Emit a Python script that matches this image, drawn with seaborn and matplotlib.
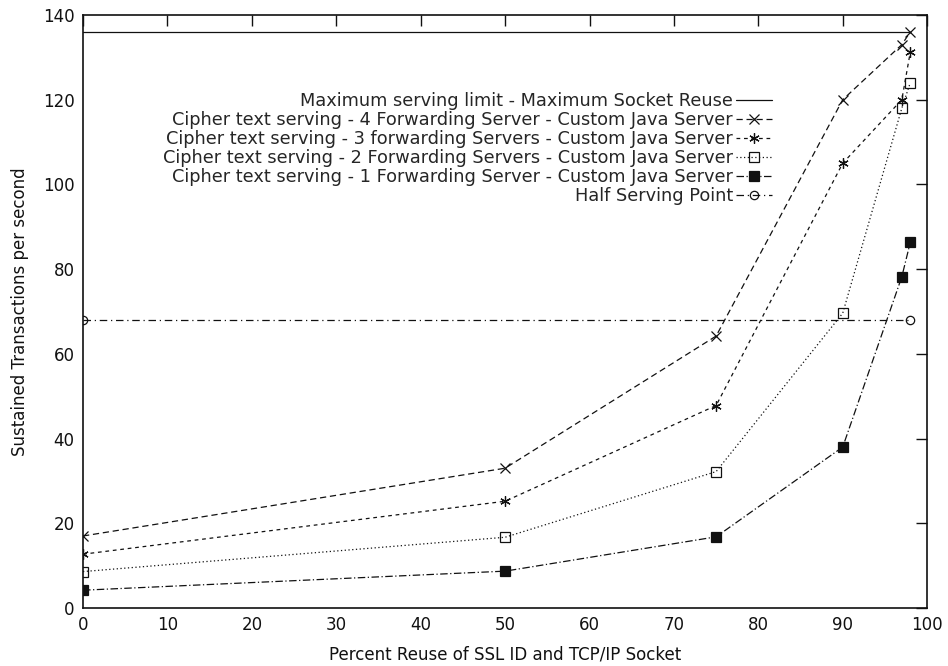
import matplotlib
matplotlib.use("Agg")
import matplotlib.pyplot as plt
import seaborn as sns
import pandas as pd

sns.set_theme(style="white")
plt.rcParams['font.family'] = ['DejaVu Sans']

reuse = [0, 50, 75, 90, 97, 98]
fwd4 = [17.0, 33.0, 64.2, 120.0, 133.0, 136.0]
fwd3 = [12.7, 25.2, 47.8, 105.0, 120.0, 131.2]
fwd2 = [8.6, 16.7, 32.2, 69.6, 118.0, 124.0]
fwd1 = [4.2, 8.7, 16.8, 38.0, 78.2, 86.3]
limit_x = [0, 98]
limit_y = [136, 136]
half_x = [0, 98]
half_y = [68, 68]

labels = [
    "Maximum serving limit - Maximum Socket Reuse",
    "Cipher text serving - 4 Forwarding Server - Custom Java Server",
    "Cipher text serving - 3 forwarding Servers - Custom Java Server",
    "Cipher text serving - 2 Forwarding Servers - Custom Java Server",
    "Cipher text serving - 1 Forwarding Server - Custom Java Server",
    "Half Serving Point",
]

fig = plt.figure(figsize=(9.48, 6.66), dpi=100)
ax = fig.add_axes([0.0876, 0.0871, 0.8904, 0.8904])

c = "#111111"
lw = 0.9
series = [
    (limit_x, limit_y, dict(linestyle="-", marker=None)),
    (reuse, fwd4, dict(linestyle=(0, (5, 3)), marker="x", markersize=6.5, mew=0.9, mfc="none")),
    (reuse, fwd3, dict(linestyle=(0, (3, 3)), marker=(6, 2, 0), markersize=7.5, mew=0.9, mfc="none")),
    (reuse, fwd2, dict(linestyle=(0, (1, 2)), marker="s", markersize=6.5, mew=0.9, mfc="none")),
    (reuse, fwd1, dict(linestyle=(0, (6, 2, 1, 2)), marker="s", markersize=6.5, mew=0.9, mfc=c)),
    (half_x, half_y, dict(linestyle=(0, (6, 3, 1, 3)), marker="o", markersize=6, mew=0.9, mfc="none")),
]
for (xs, ys, kw), lab in zip(series, labels):
    df = pd.DataFrame({"x": xs, "y": ys})
    sns.lineplot(data=df, x="x", y="y", ax=ax, color=c, linewidth=lw, mec=c,
                 label=lab, **kw)

ax.set_xlim(0, 100)
ax.set_ylim(0, 140)
ax.set_xticks(range(0, 101, 10))
ax.set_yticks(range(0, 141, 20))
ax.tick_params(direction="in", length=8, width=1, top=True, right=True,
               labelsize=12, colors="#111111", pad=6)
for s in ax.spines.values():
    s.set_color("#111111")
    s.set_linewidth(1.2)
ax.set_xlabel("Percent Reuse of SSL ID and TCP/IP Socket", fontsize=12, color="#111111", labelpad=8)
ax.set_ylabel("Sustained Transactions per second", fontsize=12, color="#111111", labelpad=10)

leg = ax.legend(loc="upper right", bbox_to_anchor=(772 / 948, 1 - 92 / 666),
                bbox_transform=fig.transFigure, frameon=False, markerfirst=False,
                fontsize=12.8, handlelength=2.0, handletextpad=0.2,
                labelspacing=0.06, alignment="right", borderpad=0, borderaxespad=0)

fig.savefig("out.png", dpi=100)
